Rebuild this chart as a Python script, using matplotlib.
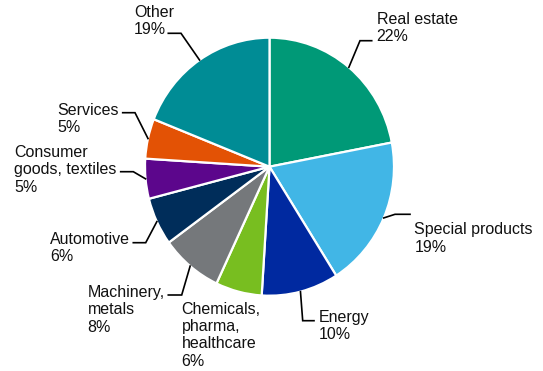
import matplotlib
matplotlib.use("Agg")
import matplotlib.pyplot as plt
import numpy as np

# data
sectors = ["Real estate", "Special products", "Energy", "Chemicals,\npharma,\nhealthcare",
           "Machinery,\nmetals", "Automotive", "Consumer\ngoods, textiles", "Services", "Other"]
shares = [22, 19, 10, 6, 8, 6, 5, 5, 19]
colors = ["#009977", "#41b6e6", "#0029a0", "#78be20", "#75787b",
          "#002d5a", "#5c068c", "#e35205", "#008c95"]

# layout (pixel positions in the 543x371 picture, y from top)
W, H = 543, 371
cx, cy, rx, ry = 269.5, 166.7, 124.5, 129.0
text_pos = [(376.7, 11.7), (414.3, 222.3), (318.3, 310), (181.7, 301.7), (87.7, 285),
            (50, 231.7), (14, 145), (57.3, 102.7), (134, 5)]
# elbow and end of the leader line, None = no leader
leaders = [((360, 40.7), (371.7, 40.7)),
           ((395, 214.3), (410, 214.3)),
           ((302.7, 320.7), (314, 320.7)),
           None,
           ((181.7, 295), (168.3, 295)),
           ((145.7, 242.7), (133.3, 242.7)),
           ((133.3, 171.7), (120.7, 171.7)),
           ((135, 112.7), (122.7, 112.7)),
           ((181, 33.3), (168.3, 33.3))]

plt.rcParams['font.family'] = ['Liberation Sans', 'DejaVu Sans']

fig = plt.figure(figsize=(W / 100, H / 100), dpi=100)
ax = fig.add_axes([0, 0, 1, 1])
wedges, _ = ax.pie(shares, colors=colors, startangle=90, counterclock=False,
                   radius=1, center=(0, 0),
                   wedgeprops=dict(edgecolor="white", linewidth=1.6))
ax.set_aspect("auto")
ax.set_xlim(-cx / rx, (W - cx) / rx)
ax.set_ylim(-(H - cy) / ry, cy / ry)
ax.axis("off")


def px(x, y):
    return (x - cx) / rx, (cy - y) / ry


for w, name, share, tp, ld in zip(wedges, sectors, shares, text_pos, leaders):
    if ld is not None:
        mid = np.deg2rad((w.theta1 + w.theta2) / 2)
        x0, y0 = np.cos(mid), np.sin(mid)
        x1, y1 = px(*ld[0])
        x2, y2 = px(*ld[1])
        ax.plot([x0, x1, x2], [y0, y1, y2], color="black", lw=1.2,
                solid_joinstyle="miter", zorder=3)
    fig.text(tp[0] / W, 1 - tp[1] / H, "%s\n%d%%" % (name, share),
             ha="left", va="top", fontsize=11.5, linespacing=1.2, color="#111111")

fig.savefig("out.png", dpi=100)
